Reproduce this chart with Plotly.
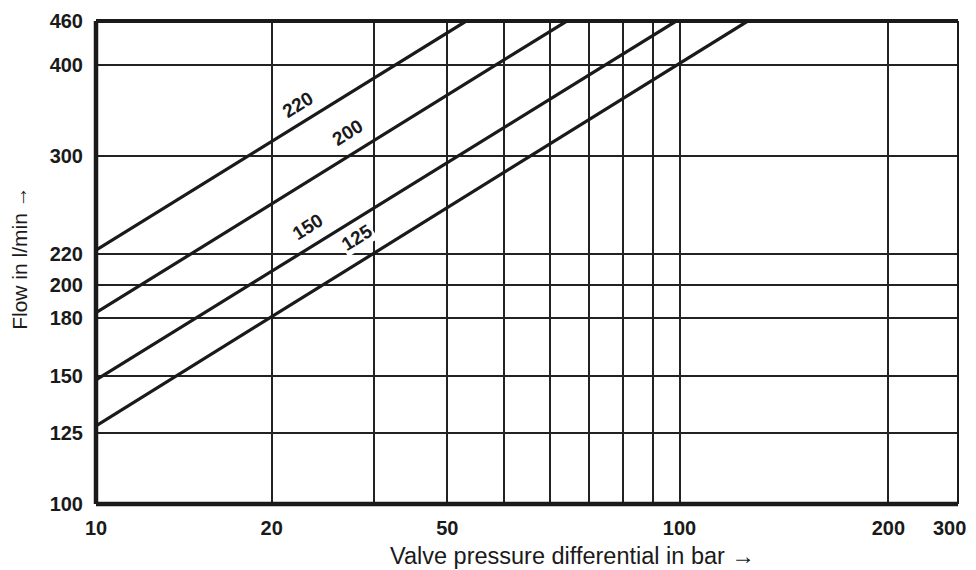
import math
import plotly.graph_objects as go

# --- data ---
series_names = ["220", "200", "150", "125"]
pressure_start = [10, 10, 10, 10]            # bar, left edge
flow_start = [223, 183, 148, 128]             # l/min at 10 bar
pressure_end = [43.1, 64.1, 98.7, 130.9]     # bar where each line reaches 460 l/min
flow_end = [460, 460, 460, 460]

# label anchor positions (data coordinates)
label_x = [22.2, 27.0, 23.1, 28.0]
label_y = [353, 323, 240, 232]

# axis ticks as printed in the reference
x_tickvals = [10, 20, 30, 40, 50, 60, 70, 80, 90, 100, 228, 300]
x_ticktext = ["10", "20", "", "50", "", "", "", "", "", "100", "200",
              "300\u00a0\u00a0\u00a0"]
y_tickvals = [100, 125, 150, 180, 200, 220, 300, 400, 460]
y_ticktext = ["100", "125", "150", "180", "200", "220", "300", "400", "460"]

BOLD = dict(family="Liberation Sans, Arial, sans-serif",
            size=20, color="#1a1a1a", weight="bold")
REG = dict(family="Liberation Sans, Arial, sans-serif", size=21, color="#1a1a1a")

fig = go.Figure()
for i, name in enumerate(series_names):
    fig.add_trace(go.Scatter(
        x=[pressure_start[i], pressure_end[i]],
        y=[flow_start[i], flow_end[i]],
        mode="lines", line=dict(color="#1a1a1a", width=3.2),
        name=name, showlegend=False, hoverinfo="skip"))

for i, name in enumerate(series_names):
    fig.add_annotation(
        x=math.log10(label_x[i]), y=math.log10(label_y[i]), xref="x", yref="y", text=name,
        showarrow=False, textangle=-32, font=dict(BOLD, size=19),
        bgcolor="white" if name == "125" else "rgba(0,0,0,0)", borderpad=1)

fig.update_xaxes(
    type="log", range=[1, 2.4772], tickvals=x_tickvals, ticktext=x_ticktext,
    showgrid=True, gridcolor="#222222", gridwidth=1.6,
    showline=False, zeroline=False, ticks="", tickfont=BOLD,
    ticklabelstandoff=10, automargin=False, ticklabeloverflow="allow")
fig.update_yaxes(
    type="log", range=[2, 2.6628], tickvals=y_tickvals, ticktext=y_ticktext,
    showgrid=True, gridcolor="#222222", gridwidth=1.6,
    showline=False, zeroline=False, ticks="", tickfont=BOLD,
    ticklabelstandoff=12, automargin=False, ticklabeloverflow="allow")

# frame: thick left, bottom, top; thinner right
frame = [
    dict(x0=0, x1=0, y0=0, y1=1, w=4.5),
    dict(x0=0, x1=1, y0=0, y1=0, w=4.5),
    dict(x0=0, x1=1, y0=1, y1=1, w=4),
    dict(x0=1, x1=1, y0=0, y1=1, w=2),
]
for f in frame:
    fig.add_shape(type="line", xref="paper", yref="paper",
                  x0=f["x0"], x1=f["x1"], y0=f["y0"], y1=f["y1"],
                  line=dict(color="#1a1a1a", width=f["w"]), layer="above")

fig.add_annotation(
    text="Valve pressure differential in bar \u2192", xref="paper", yref="paper",
    x=0.553, y=-0.108, xanchor="center", yanchor="middle", showarrow=False,
    font=dict(REG, size=23.5))
fig.add_annotation(
    text="Flow in l/min \u2192", xref="paper", yref="paper",
    x=-0.088, y=0.51, xanchor="center", yanchor="middle", showarrow=False,
    textangle=-90, font=REG)

# page body has an 8px margin, so the figure is 8px smaller than the window
fig.update_layout(
    width=968, height=562,
    margin=dict(l=88, r=18, t=13, b=66, autoexpand=False),
    paper_bgcolor="white", plot_bgcolor="white",
    showlegend=False)

fig.write_html("out.html")
